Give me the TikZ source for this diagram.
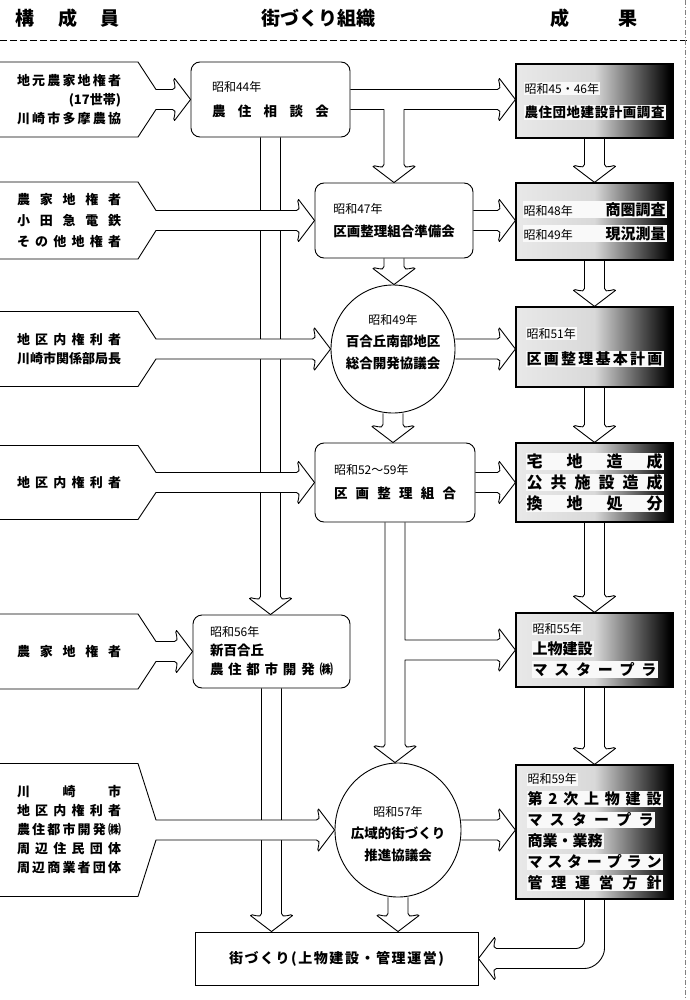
\documentclass[tikz,border=0pt]{standalone}
\usepackage{fontspec}
\setmainfont{Noto Sans CJK JP}
\usetikzlibrary{shapes.geometric, calc, positioning, backgrounds}

\pgfdeclarehorizontalshading{scan}{100bp}{color(0bp)=(gray!5); color(50bp)=(gray!30); color(74bp)=(black); color(100bp)=(black)}

% letters spread over a fixed width
\def\spchars#1#2\spend{#1\if\relax\detokenize{#2}\relax\else\hfill\spchars#2\spend\fi}
\newcommand{\sline}[2]{\makebox[#1][s]{\spchars#2\spend}}
\newcommand{\yr}[1]{{\fontsize{12}{14}\selectfont\mdseries #1}}
\newcommand{\txtbg}[1]{{\setlength{\fboxsep}{1pt}\colorbox{gray!5}{#1}}}

% heads of the hollow block arrows (right, down, left)
\newcommand{\rtip}[1]{-- ($(#1)+(-18,-10)$) .. controls +(6,0) and +(-3,0) .. ++(2,-11) -- (#1) -- ++(-16,21) .. controls +(-3,0) and +(6,0) .. ++(-2,-11)}
\newcommand{\dtip}[1]{-- ($(#1)+(10,-18)$) .. controls +(0,6) and +(0,-3) .. ++(11,2) -- (#1) -- ++(-21,-16) .. controls +(0,-3) and +(0,6) .. ++(11,-2)}
\newcommand{\ltip}[1]{-- ($(#1)+(18,-10)$) .. controls +(-6,0) and +(3,0) .. ++(-2,-11) -- (#1) -- ++(16,21) .. controls +(3,0) and +(-6,0) .. ++(2,-11)}

\tikzset{
  unit/.style={draw, line width=0.9pt, rounded corners=9pt, font=\fontsize{13.5}{19}\selectfont\bfseries, align=left, inner sep=0pt},
  council/.style={draw, ellipse, line width=0.9pt, inner sep=0pt},
  cntext/.style={font=\fontsize{13.5}{22}\selectfont\bfseries, align=center, inner sep=0pt},
  result/.style={draw, line width=1.2pt, shade, shading=scan, font=\fontsize{15}{21}\selectfont\bfseries, align=left, inner sep=0pt, minimum width=157},
  member/.style={minimum width=138, inner sep=0pt, outer sep=0pt, anchor=west, font=\fontsize{13}{19}\selectfont\bfseries, align=center},
  blk/.style={draw, line width=0.9pt, fill=white, line join=round},
  hdr/.style={font=\fontsize{19}{19}\selectfont\bfseries}
}

\begin{document}
\begin{tikzpicture}[x=1pt, y=-1pt]
  \useasboundingbox (0,0) rectangle (689,1000);

  % headings
  \node[hdr] (h1) at (68,18) {\sline{104pt}{構成員}};
  \node[hdr] (h2) at (318,18) {街づくり組織};
  \node[hdr] (h3) at (594,18) {\sline{88pt}{成果}};
  \draw[line width=0.6pt, dash pattern=on 7pt off 3pt] (0,40) -- (689,40);
  \draw[line width=0.6pt, gray, dash pattern=on 5pt off 2pt on 1pt off 2pt] (685,0) -- (685,1000);

  % organisations
  \node[unit, minimum width=159, minimum height=75] (M1) at (270.5,99.5)
    {\yr{昭和44年}\\[6pt] \sline{117pt}{農住相談会}};
  \node[unit, minimum width=158, minimum height=75] (M2) at (394,220.5)
    {\yr{昭和47年}\\[4pt] 区画整理組合準備会};
  \node[council, minimum width=124, minimum height=128] (E1) at (393,349) {};
  \node[cntext] (E1t) at ($(E1)+(0,-7)$) {\yr{昭和49年}\\ 百合丘南部地区\\ 総合開発協議会};
  \node[unit, minimum width=160, minimum height=79] (M4) at (395,482.5)
    {\yr{昭和52〜59年}\\[5pt] \sline{122pt}{区画整理組合}};
  \node[unit, minimum width=157, minimum height=73] (M5) at (271.5,651.5)
    {\yr{昭和56年}\\ 新百合丘\\ \sline{123pt}{農住都市開発㈱}};
  \node[council, minimum width=126, minimum height=134] (E2) at (398,830) {};
  \node[cntext] (E2t) at ($(E2)+(0,4)$) {\yr{昭和57年}\\ 広域的街づくり\\ 推進協議会};
  \node[draw, line width=0.9pt, minimum width=283, minimum height=53,
        font=\fontsize{14}{14}\selectfont\bfseries] (B) at (336.5,958.5)
    {\sline{215pt}{街づくり(上物建設・管理運営)}};

  % results
  \node[result, minimum height=74] (R1) at (594.5,101)
    {\txtbg{\yr{昭和45・46年}}\\[3pt] \txtbg{\fontsize{13.5}{21}\selectfont\sline{140pt}{農住団地建設計画調査}}};
  \node[result, minimum height=77] (R2) at (594.5,221.5)
    {\txtbg{\makebox[142pt][s]{\yr{昭和48年}\hfill 商圏調査}}\\[3pt]
     \txtbg{\makebox[142pt][s]{\yr{昭和49年}\hfill 現況測量}}};
  \node[result, minimum height=80] (R3) at (594.5,347)
    {\txtbg{\yr{昭和51年}}\\[5pt] \txtbg{\sline{136pt}{区画整理基本計画}}};
  \node[result, minimum height=79, font=\fontsize{16}{21}\selectfont\bfseries] (R4) at (594.5,482.5)
    {\txtbg{\sline{136pt}{宅地造成}}\\ \txtbg{\sline{136pt}{公共施設造成}}\\ \txtbg{\sline{136pt}{換地処分}}};
  \node[result, minimum height=74] (R5) at (594.5,650)
    {\txtbg{\yr{昭和55年}}\\ \txtbg{上物建設}\\ \txtbg{\sline{124pt}{マスタープラ}}};
  \node[result, minimum height=134] (R6) at (594.5,832)
    {\txtbg{\yr{昭和59年}}\\ \txtbg{\sline{134pt}{第2次上物建設}}\\ \txtbg{\sline{126pt}{マスタープラ}}\\
     \txtbg{商業・業務}\\ \txtbg{\sline{134pt}{マスタープラン}}\\ \txtbg{\sline{134pt}{管理運営方針}}};

  % members
  \node[member, minimum height=75] (L1) at (0,0 |- M1)
    {\sline{104pt}{地元農家地権者}\\ \makebox[104pt][r]{(17世帯)}\\ \sline{104pt}{川崎市多摩農協}};
  \node[member, minimum height=77] (L2) at (0,0 |- M2)
    {\sline{104pt}{農家地権者}\\[2pt] \sline{104pt}{小田急電鉄}\\[2pt] \sline{104pt}{その他地権者}};
  \node[member, minimum height=75] (L3) at (0,0 |- E1)
    {\sline{104pt}{地区内権利者}\\ \sline{104pt}{川崎市関係部局長}};
  \node[member, minimum height=74] (L4) at (0,0 |- M4)
    {\sline{104pt}{地区内権利者}};
  \node[member, minimum height=75] (L5) at (0,0 |- M5)
    {\sline{104pt}{農家地権者}};
  \node[member, minimum height=133] (L6) at (0,0 |- E2)
    {\sline{104pt}{川崎市}\\ \sline{104pt}{地区内権利者}\\ \sline{104pt}{農住都市開発㈱}\\
     \sline{104pt}{周辺住民団体}\\ \sline{104pt}{周辺商業者団体}};

  \begin{scope}[on background layer]
    % vertical block arrows
    \filldraw[blk] ($(M1.south)+(10,0)$) \dtip{M1.south |- M5.north} -- ($(M1.south)+(-10,0)$);
    \filldraw[blk] ($(M5.south)+(10,0)$) \dtip{M5.south |- B.north} -- ($(M5.south)+(-10,0)$);
    \filldraw[blk] ($(M2.south)+(10,0)$) \dtip{M2.south |- E1.north} -- ($(M2.south)+(-10,0)$);
    \filldraw[blk] ($(E1.south)+(10,0)$) \dtip{E1.south |- M4.north} -- ($(E1.south)+(-10,0)$);
    \filldraw[blk] ($(E2.south)+(10,0)$) \dtip{E2.south |- B.north} -- ($(E2.south)+(-10,0)$);
    \filldraw[blk] ($(M4.south)+(10,0)$) -- ($(M4.south |- R5.west)+(10,-10)$) \rtip{R5.west}
      -- ($(M4.south |- R5.west)+(10,10)$) \dtip{M4.south |- E2.north} -- ($(M4.south)+(-10,0)$);
    \filldraw[blk] ($(M1.east)+(0,-10)$) \rtip{R1.west |- M1.east}
      -- ($(M2.north |- M1.east)+(10,10)$) \dtip{M2.north} -- ($(M2.north |- M1.east)+(-10,10)$)
      -- ($(M1.east)+(0,10)$);
    \foreach \a/\b in {R1/R2, R2/R3, R3/R4, R4/R5, R5/R6}
      \filldraw[blk] ($(\a.south)+(10,0)$) \dtip{\b.north} -- ($(\a.south)+(-10,0)$);

    % back from the last result
    \coordinate (ret) at (R6.south |- B.east);
    \filldraw[blk] ($(R6.south)+(-10,0)$) -- ($(ret)+(-10,-18)$)
      .. controls ($(ret)+(-10,-13.5)$) and ($(ret)+(-14.5,-10)$) .. ($(ret)+(-18,-10)$)
      \ltip{B.east} -- ($(ret)+(-10,10)$)
      .. controls ($(ret)+(1,10)$) and ($(ret)+(10,-1)$) .. ($(ret)+(10,-10)$)
      -- ($(R6.south)+(10,0)$);

    % members into the organisations
    \foreach \l/\m in {L1/M1, L2/M2, L3/E1, L4/M4, L5/M5, L6/E2}
      \filldraw[blk] (\l.north west) -- (\l.north east) -- ($(\l.east)+(18,-10)$) \rtip{\m.west}
        -- ($(\l.east)+(18,10)$) -- (\l.south east) -- (\l.south west);

    % organisations into the results
    \foreach \m/\r in {M2/R2, E1/R3, M4/R4, E2/R6}
      \filldraw[blk] ($(\m.east)+(0,-10)$) \rtip{\r.west |- \m.east} -- ($(\m.east)+(0,10)$);
  \end{scope}
\end{tikzpicture}
\end{document}
